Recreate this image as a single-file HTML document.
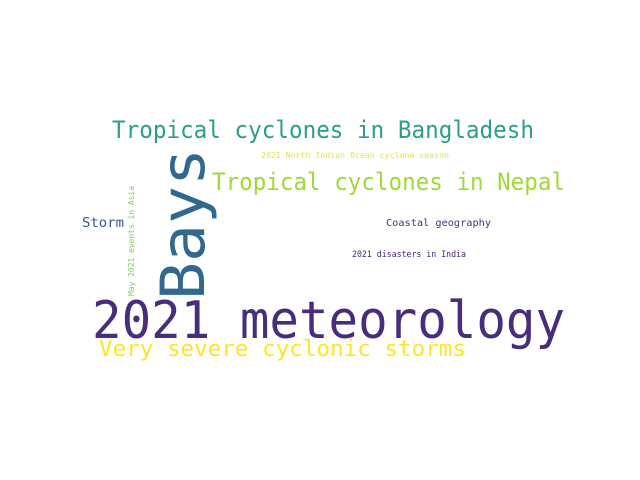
<!DOCTYPE html>
<html><head><meta charset="utf-8"><style>
html,body{margin:0;padding:0;background:#fff;width:640px;height:480px;overflow:hidden}
text{font-family:"DejaVu Sans Mono","Liberation Mono",monospace}
</style></head><body>
<svg width="640" height="480" viewBox="0 0 640 480">
<rect width="640" height="480" fill="#fff"/>
<text x="112" y="138" font-size="24" fill="#2c9f8c" textLength="422" lengthAdjust="spacingAndGlyphs">Tropical cyclones in Bangladesh</text>
<text x="261" y="158" font-size="8" fill="#e6e24a" textLength="188" lengthAdjust="spacingAndGlyphs">2021 North Indian Ocean cyclone season</text>
<text x="212" y="190" font-size="24" fill="#9fd93c" textLength="353" lengthAdjust="spacingAndGlyphs">Tropical cyclones in Nepal</text>
<text x="0" y="0" font-size="61" fill="#31688e" textLength="152" lengthAdjust="spacingAndGlyphs" transform="translate(204,300) rotate(-90)">Bays</text>
<text x="82" y="227" font-size="13" fill="#3b528b" textLength="42" lengthAdjust="spacingAndGlyphs">Storm</text>
<text x="0" y="0" font-size="8" fill="#7ad151" textLength="110" lengthAdjust="spacingAndGlyphs" transform="translate(134,296) rotate(-90)">May 2021 events in Asia</text>
<text x="386" y="226" font-size="10" fill="#46337e" textLength="105" lengthAdjust="spacingAndGlyphs">Coastal geography</text>
<text x="352" y="257" font-size="8.5" fill="#482475" textLength="114" lengthAdjust="spacingAndGlyphs">2021 disasters in India</text>
<text x="92" y="338" font-size="52" fill="#472d7b" textLength="473" lengthAdjust="spacingAndGlyphs">2021 meteorology</text>
<text x="99" y="356" font-size="22" fill="#fde725" textLength="367" lengthAdjust="spacingAndGlyphs">Very severe cyclonic storms</text>
</svg>
</body></html>
